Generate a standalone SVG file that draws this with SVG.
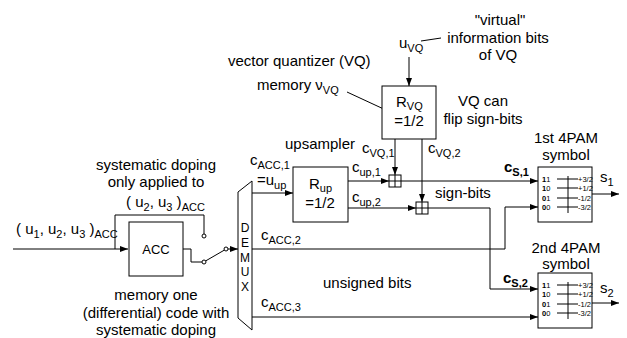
<svg xmlns="http://www.w3.org/2000/svg" xmlns:xlink="http://www.w3.org/1999/xlink" width="627" height="338" viewBox="0 0 627 338">
<style>
text{font-family:"Liberation Sans",Arial,sans-serif;font-size:15px;fill:#000}
.m{text-anchor:middle}
.sub{font-size:11px}
.small{font-size:7.5px;fill:#000}
.b{font-weight:bold}
.dm{font-size:12px;text-anchor:middle}
.ln{stroke:#000;stroke-width:1;fill:none}
.box{fill:#fff;stroke:#000;stroke-width:1}
.dot{fill:#fff;stroke:#000;stroke-width:1}
</style>
<defs>
<marker id="ar" markerUnits="userSpaceOnUse" markerWidth="9" markerHeight="7" refX="8" refY="3" orient="auto">
<path d="M0,0 L8,3 L0,6 z" fill="#000"/>
</marker>
<g id="pam">
<rect class="box" x="0" y="0" width="54" height="55"/>
<path class="ln" d="M30,9 V46 M19,12 H40 M19,21 H40 M19,31 H40 M19,40 H40"/>
<text class="small" x="4" y="14.5"><tspan class="b">1</tspan>1</text>
<text class="small" x="4" y="23.5"><tspan class="b">1</tspan>0</text>
<text class="small" x="4" y="33.5"><tspan class="b">0</tspan>1</text>
<text class="small" x="4" y="42.5"><tspan class="b">0</tspan>0</text>
<text class="small" x="40" y="14.5">+3/2</text>
<text class="small" x="40" y="23.5">+1/2</text>
<text class="small" x="40" y="33.5">-1/2</text>
<text class="small" x="40" y="42.5">-3/2</text>
</g>
</defs>

<g id="connectors">
<path class="ln" d="M13,249 H128" marker-end="url(#ar)"/>
<path class="ln" d="M115,249 V215 H204 V234"/>
<path class="ln" d="M183,249 H191 V262 H202"/>
<path class="ln" d="M205.5,261 L224.5,250"/>
<path class="ln" d="M228,249 H238" marker-end="url(#ar)"/>
<path class="ln" d="M252,193 H293" marker-end="url(#ar)"/>
<path class="ln" d="M348,181 H389" marker-end="url(#ar)"/>
<path class="ln" d="M348,208 H416" marker-end="url(#ar)"/>
<path class="ln" d="M395,139 V175" marker-end="url(#ar)"/>
<path class="ln" d="M422,139 V202" marker-end="url(#ar)"/>
<path class="ln" d="M401,181 H538" marker-end="url(#ar)"/>
<path class="ln" d="M428,208 H490 V289 H538" marker-end="url(#ar)"/>
<path class="ln" d="M252,249 H505 V207 H538" marker-end="url(#ar)"/>
<path class="ln" d="M252,317 H538" marker-end="url(#ar)"/>
<path class="ln" d="M409,57 V86" marker-end="url(#ar)"/>
<path class="ln" d="M592,194 H619" marker-end="url(#ar)"/>
<path class="ln" d="M592,303 H619" marker-end="url(#ar)"/>
<path class="ln" d="M347,92 L388,111"/>
<path class="ln" d="M421,41 L441,38"/>
<circle class="dot" cx="204" cy="236" r="2"/>
<circle class="dot" cx="204" cy="262" r="2"/>
<circle class="dot" cx="226" cy="249" r="2"/>
</g>

<g id="acc">
<rect class="box" x="129" y="222" width="54" height="54"/>
<text class="m" x="156" y="254" style="font-size:13px">ACC</text>
</g>

<g id="demux">
<polygon class="box" points="238,192 252,181 252,330 238,318"/>
<text class="dm" x="245" y="232">D</text>
<text class="dm" x="245" y="247">E</text>
<text class="dm" x="245" y="262">M</text>
<text class="dm" x="245" y="276">U</text>
<text class="dm" x="245" y="291">X</text>
</g>

<g id="rup">
<rect class="box" x="293" y="167" width="55" height="55"/>
<text x="309" y="189">R<tspan class="sub" dy="3">up</tspan></text>
<text class="m" x="320" y="208">=1/2</text>
</g>

<g id="rvq">
<rect class="box" x="382" y="86" width="54" height="53"/>
<text x="396" y="107">R<tspan class="sub" dy="3">VQ</tspan></text>
<text class="m" x="409" y="126">=1/2</text>
</g>

<g id="xor1">
<rect class="box" x="389" y="175" width="12" height="12"/>
<path class="ln" d="M395,175 V187 M389,181 H401"/>
</g>
<g id="xor2">
<rect class="box" x="416" y="202" width="12" height="12"/>
<path class="ln" d="M422,202 V214 M416,208 H428"/>
</g>

<g id="pam1">
<use xlink:href="#pam" href="#pam" x="538" y="167"/>
<text class="m" x="566" y="143">1st 4PAM</text>
<text class="m" x="566" y="160">symbol</text>
<text x="600" y="182">s<tspan class="sub" dy="4">1</tspan></text>
</g>
<g id="pam2">
<use xlink:href="#pam" href="#pam" x="538" y="273"/>
<text class="m" x="566" y="253">2nd 4PAM</text>
<text class="m" x="566" y="269">symbol</text>
<text x="600" y="293">s<tspan class="sub" dy="4">2</tspan></text>
</g>

<g id="labels">
<text class="m" x="500" y="25">"virtual"</text>
<text class="m" x="498" y="43">information bits</text>
<text class="m" x="498" y="60">of VQ</text>
<text x="399" y="48">u<tspan class="sub" dy="4">VQ</tspan></text>
<text x="228" y="66">vector quantizer (VQ)</text>
<text x="257" y="90">memory ν<tspan class="sub" dy="4">VQ</tspan></text>
<text class="m" x="483" y="106">VQ can</text>
<text class="m" x="483" y="124">flip sign-bits</text>
<text x="285" y="149">upsampler</text>
<text x="362" y="153">c<tspan class="sub" dy="4">VQ,1</tspan></text>
<text x="428" y="153">c<tspan class="sub" dy="4">VQ,2</tspan></text>
<text x="250" y="165">c<tspan class="sub" dy="4">ACC,1</tspan></text>
<text x="257" y="185">=u<tspan class="sub" dy="4">up</tspan></text>
<text x="352" y="172">c<tspan class="sub" dy="4">up,1</tspan></text>
<text x="352" y="202">c<tspan class="sub" dy="4">up,2</tspan></text>
<text x="435" y="198">sign-bits</text>
<text class="b" x="504" y="172">c<tspan class="sub" dy="4">S,1</tspan></text>
<text class="b" x="503" y="283">c<tspan class="sub" dy="4">S,2</tspan></text>
<text x="261" y="240">c<tspan class="sub" dy="4">ACC,2</tspan></text>
<text x="261" y="307">c<tspan class="sub" dy="4">ACC,3</tspan></text>
<text x="323" y="288">unsigned bits</text>
<text class="m" x="156" y="170">systematic doping</text>
<text class="m" x="156" y="187">only applied to</text>
<text x="126" y="207">( u<tspan class="sub" dy="4">2</tspan><tspan dy="-4">, u</tspan><tspan class="sub" dy="4">3</tspan><tspan dy="-4"> )</tspan><tspan class="sub" dy="4">ACC</tspan></text>
<text x="16" y="234">( u<tspan class="sub" dy="4">1</tspan><tspan dy="-4">, u</tspan><tspan class="sub" dy="4">2</tspan><tspan dy="-4">, u</tspan><tspan class="sub" dy="4">3</tspan><tspan dy="-4"> )</tspan><tspan class="sub" dy="4">ACC</tspan></text>
<text class="m" x="156" y="300">memory one</text>
<text class="m" x="156" y="318">(differential) code with</text>
<text class="m" x="156" y="335">systematic doping</text>
</g>
</svg>
